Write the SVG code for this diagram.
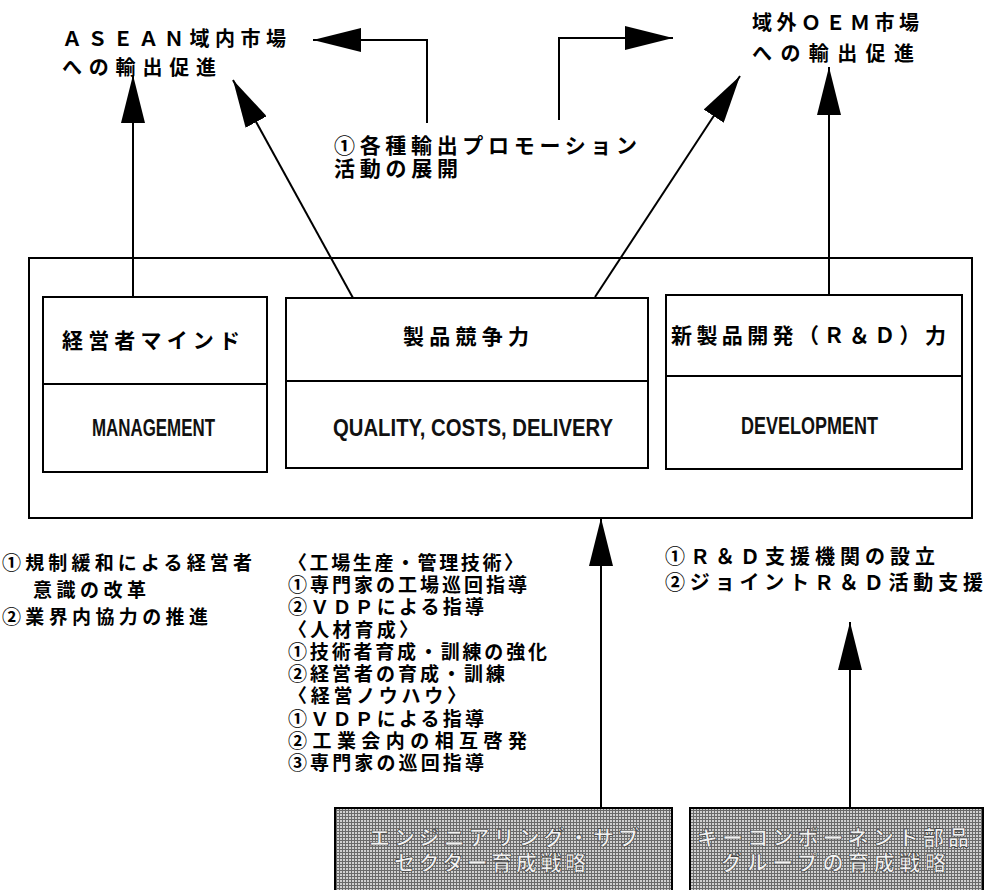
<svg xmlns="http://www.w3.org/2000/svg" width="985" height="890" viewBox="0 0 985 890">
<defs>
<style>
.jp{font-family:"Noto Sans CJK JP","Noto Sans CJK SC",sans-serif;font-weight:700;fill:#000}
.en{font-family:"Liberation Sans",Arial,sans-serif;font-size:24px;font-weight:700;fill:#111}
.box{fill:#fff;stroke:#000;stroke-width:2}
.ln{fill:none;stroke:#000;stroke-width:2}
.conn{fill:none;stroke:#000;stroke-width:2;marker-end:url(#ah)}
.gray{fill:url(#dots);stroke:#000;stroke-width:2}
.gt{font-family:"Noto Sans CJK JP","Noto Sans CJK SC",sans-serif;font-weight:700;font-size:21px;fill:#f2f2f2;stroke:#333;stroke-width:0.6}
.l1{font-size:19px}
.l2{font-size:19px}
.l3{font-size:20px}
</style>
<marker id="ah" markerUnits="userSpaceOnUse" viewBox="0 0 48 24" markerWidth="48" markerHeight="24" refX="48" refY="12" orient="auto">
<path d="M0,0 L48,12 L0,24 Z" fill="#000"/>
</marker>
<pattern id="dots" patternUnits="userSpaceOnUse" width="3" height="3">
<rect width="3" height="3" fill="#d0d0d0"/>
<rect x="0" y="0" width="3" height="1" fill="#6a6a6a"/>
<rect x="0" y="0" width="1" height="3" fill="#6a6a6a"/>
</pattern>
</defs>
<rect width="985" height="890" fill="#fff"/>

<g id="asean-market">
<text class="jp" font-size="20" x="62" y="46" textLength="224">ＡＳＥＡＮ域内市場</text>
<text class="jp" font-size="20" x="62" y="75" textLength="154">への輸出促進</text>
</g>
<g id="oem-market">
<text class="jp" font-size="20" x="752" y="30" textLength="167">域外ＯＥＭ市場</text>
<text class="jp" font-size="20" x="752" y="61" textLength="162">への輸出促進</text>
</g>
<g id="promotion-label">
<text class="jp" font-size="21" x="334" y="153" textLength="303">①各種輸出プロモーション</text>
<text class="jp" font-size="21" x="334" y="176" textLength="124">活動の展開</text>
</g>

<g id="outer-frame">
<rect class="box" x="29" y="258" width="943" height="260" fill="none"/>
</g>

<g id="management">
<rect class="box" x="43" y="297" width="224" height="175"/>
<line class="ln" x1="43" y1="384" x2="267" y2="384"/>
<text class="jp" font-size="21" x="62" y="348" textLength="178">経営者マインド</text>
<text class="en" x="92" y="436" textLength="123" lengthAdjust="spacingAndGlyphs">MANAGEMENT</text>
</g>
<g id="competitiveness">
<rect class="box" x="286" y="298" width="362" height="170"/>
<line class="ln" x1="286" y1="381" x2="648" y2="381"/>
<text class="jp" font-size="21" x="403" y="344" textLength="126">製品競争力</text>
<text class="en" x="333" y="436" textLength="280" lengthAdjust="spacingAndGlyphs">QUALITY, COSTS, DELIVERY</text>
</g>
<g id="development">
<rect class="box" x="666" y="295" width="296" height="174"/>
<line class="ln" x1="666" y1="376" x2="962" y2="376"/>
<text class="jp" font-size="21" x="671" y="343" textLength="275">新製品開発（Ｒ＆Ｄ）力</text>
<text class="en" x="741" y="434" textLength="137" lengthAdjust="spacingAndGlyphs">DEVELOPMENT</text>
</g>

<g id="list-management">
<text class="jp l1" x="2" y="570" textLength="250">①規制緩和による経営者</text>
<text class="jp l1" x="33" y="597" textLength="113">意識の改革</text>
<text class="jp l1" x="2" y="624" textLength="206">②業界内協力の推進</text>
</g>
<g id="list-engineering">
<text class="jp l2" x="288" y="570" textLength="235">〈工場生産・管理技術〉</text>
<text class="jp l2" x="288" y="592" textLength="239">①専門家の工場巡回指導</text>
<text class="jp l2" x="288" y="614" textLength="196">②ＶＤＰによる指導</text>
<text class="jp l2" x="288" y="637" textLength="130">〈人材育成〉</text>
<text class="jp l2" x="288" y="659" textLength="259">①技術者育成・訓練の強化</text>
<text class="jp l2" x="288" y="681" textLength="217">②経営者の育成・訓練</text>
<text class="jp l2" x="288" y="703" textLength="178">〈経営ノウハウ〉</text>
<text class="jp l2" x="288" y="726" textLength="196">①ＶＤＰによる指導</text>
<text class="jp l2" x="288" y="748" textLength="239">②工業会内の相互啓発</text>
<text class="jp l2" x="288" y="770" textLength="196">③専門家の巡回指導</text>
</g>
<g id="list-rd">
<text class="jp l3" x="665" y="564" textLength="270">①Ｒ＆Ｄ支援機関の設立</text>
<text class="jp l3" x="665" y="590" textLength="318">②ジョイントＲ＆Ｄ活動支援</text>
</g>

<g id="engineering-strategy">
<rect class="gray" x="335" y="808" width="337" height="90"/>
<text class="gt" x="369" y="845" textLength="270">エンジニアリング・サブ</text>
<text class="gt" x="394" y="870" textLength="192">セクター育成戦略</text>
</g>
<g id="key-component-strategy">
<rect class="gray" x="690" y="808" width="293" height="90"/>
<text class="gt" x="697" y="845" textLength="272">キーコンポーネント部品</text>
<text class="gt" x="721" y="870" textLength="225">グループの育成戦略</text>
</g>

<g id="connectors">
<path class="conn" d="M133,297 V75"/>
<path class="conn" d="M353,298 L233,80"/>
<path class="conn" d="M427,123 V40 H313"/>
<path class="conn" d="M559,120 V38 H673"/>
<path class="conn" d="M595,297 L740,76"/>
<path class="conn" d="M829,295 V67"/>
<path class="conn" d="M601,808 V518"/>
<path class="conn" d="M850,808 V622"/>
</g>
</svg>
